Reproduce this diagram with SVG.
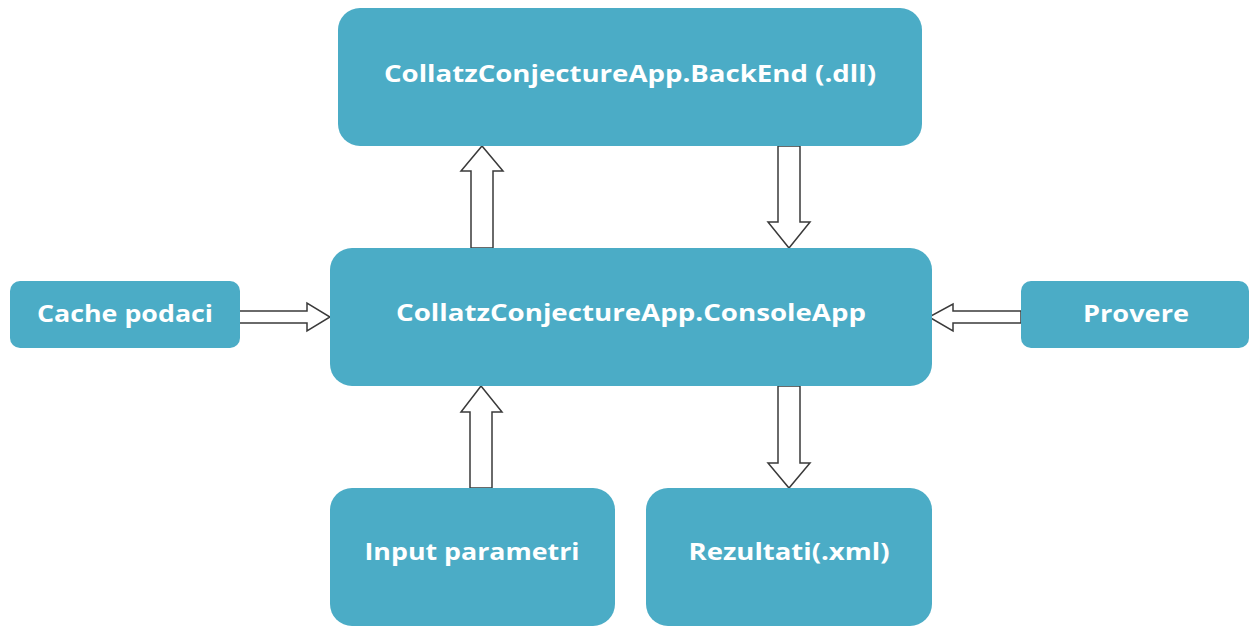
<svg xmlns="http://www.w3.org/2000/svg" width="1250" height="626" viewBox="0 0 1250 626">
<style>
.box{fill:#4BACC6;}
.lbl{fill:#ffffff;font-family:"Open Sans","Liberation Sans",sans-serif;font-weight:bold;font-size:23px;text-anchor:middle;}
.arr{fill:#ffffff;stroke:#3a3a3a;stroke-width:1.5;stroke-linejoin:miter;}
</style>
<rect width="1250" height="626" fill="#ffffff"/>
<g id="connectors">
<polygon class="arr" points="471,248 471,171 461,171 482,146 503,171 493,171 493,248"/>
<polygon class="arr" points="778,146 800,146 800,222 810,222 789,248 768,222 778,222"/>
<polygon class="arr" points="239,311 307,311 307,303 330,317 307,331 307,323 239,323"/>
<polygon class="arr" points="1021,311 953,311 953,304 929,317 953,331 953,323 1021,323"/>
<polygon class="arr" points="470,488 470,412 461,412 481,386 502,412 492,412 492,488"/>
<polygon class="arr" points="778,386 800,386 800,463 810,463 789,488 768,463 778,463"/>
</g>
<g id="backend">
<rect class="box" x="338" y="8" width="584" height="138" rx="22"/>
<text class="lbl" x="630" y="82" textLength="492" lengthAdjust="spacingAndGlyphs">CollatzConjectureApp.BackEnd (.dll)</text>
</g>
<g id="console">
<rect class="box" x="330" y="248" width="602" height="138" rx="22"/>
<text class="lbl" x="631" y="321" textLength="470" lengthAdjust="spacingAndGlyphs">CollatzConjectureApp.ConsoleApp</text>
</g>
<g id="cache">
<rect class="box" x="10" y="281" width="230" height="67" rx="10"/>
<text class="lbl" x="125" y="322" textLength="176" lengthAdjust="spacingAndGlyphs">Cache podaci</text>
</g>
<g id="provere">
<rect class="box" x="1021" y="281" width="228" height="67" rx="10"/>
<text class="lbl" x="1136" y="322" textLength="106" lengthAdjust="spacingAndGlyphs">Provere</text>
</g>
<g id="input">
<rect class="box" x="330" y="488" width="285" height="138" rx="22"/>
<text class="lbl" x="472" y="560" textLength="215" lengthAdjust="spacingAndGlyphs">Input parametri</text>
</g>
<g id="rezultati">
<rect class="box" x="646" y="488" width="286" height="138" rx="22"/>
<text class="lbl" x="789" y="560" textLength="201" lengthAdjust="spacingAndGlyphs">Rezultati(.xml)</text>
</g>
</svg>
